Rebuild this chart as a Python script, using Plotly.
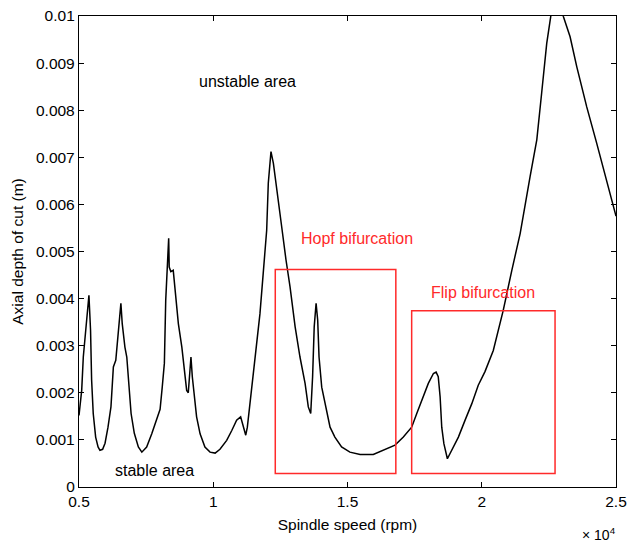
import plotly.graph_objects as go

# Spindle speed (x 1e4 rpm) and axial depth of cut (m)
speed = [0.500, 0.510, 0.516, 0.525, 0.532, 0.537, 0.540, 0.543, 0.547, 0.553,
         0.562, 0.571, 0.578, 0.588, 0.597, 0.608, 0.619, 0.628, 0.637, 0.644,
         0.650, 0.656, 0.661, 0.668, 0.671, 0.678, 0.684, 0.694, 0.706, 0.721,
         0.734, 0.752, 0.771, 0.789, 0.802, 0.810, 0.818, 0.823, 0.829, 0.834,
         0.836, 0.842, 0.851, 0.861, 0.870, 0.883, 0.891, 0.901, 0.907, 0.913,
         0.917, 0.922, 0.929, 0.938, 0.951, 0.969, 0.988, 1.007, 1.025, 1.050,
         1.069, 1.087, 1.102, 1.112, 1.121, 1.127, 1.143, 1.162, 1.174, 1.186,
         1.199, 1.205, 1.215, 1.224, 1.236, 1.255, 1.271, 1.286, 1.305, 1.323,
         1.342, 1.354, 1.363, 1.370, 1.376, 1.383, 1.389, 1.394, 1.404, 1.416,
         1.435, 1.453, 1.478, 1.509, 1.547, 1.596, 1.633, 1.677, 1.708, 1.739,
         1.758, 1.782, 1.801, 1.820, 1.830, 1.838, 1.845, 1.851, 1.859, 1.872,
         1.888, 1.913, 1.938, 1.963, 1.987, 2.012, 2.043, 2.080, 2.112, 2.143,
         2.180, 2.205, 2.223, 2.242, 2.257, 2.271, 2.304, 2.329, 2.354, 2.391,
         2.428, 2.465, 2.496, 2.500]
depth_mm = [1.52, 2.05, 2.76, 3.26, 3.72, 4.07, 3.70, 3.33, 2.27, 1.56,
            1.06, 0.85, 0.78, 0.80, 0.93, 1.27, 1.70, 2.55, 2.69, 3.19,
            3.54, 3.90, 3.47, 3.10, 2.97, 2.76, 2.27, 1.56, 1.14, 0.85,
            0.74, 0.85, 1.13, 1.42, 1.65, 2.12, 2.63, 3.97, 4.60, 5.28,
            4.67, 4.57, 4.60, 4.04, 3.47, 2.97, 2.55, 2.05, 2.00, 2.48,
            2.76, 2.34, 1.91, 1.49, 1.13, 0.85, 0.74, 0.72, 0.80, 0.99,
            1.20, 1.42, 1.49, 1.27, 1.10, 1.27, 2.05, 2.97, 3.68, 4.53,
            5.45, 6.45, 7.12, 6.87, 6.30, 5.52, 4.82, 4.25, 3.40, 2.76,
            2.20, 1.70, 1.56, 2.34, 3.40, 3.90, 3.54, 2.76, 2.12, 1.77,
            1.27, 1.06, 0.85, 0.74, 0.69, 0.69, 0.78, 0.89, 1.06, 1.27,
            1.56, 1.91, 2.20, 2.41, 2.44, 2.34, 1.91, 1.27, 0.92, 0.60,
            0.78, 1.06, 1.42, 1.77, 2.16, 2.45, 2.90, 3.75, 4.60, 5.38,
            6.59, 7.37, 8.36, 9.42, 9.99, 10.69, 9.99, 9.56, 8.92, 8.07,
            7.30, 6.52, 5.81, 5.75]
depth = [v / 1000 for v in depth_mm]

x_ticks = [0.5, 1, 1.5, 2, 2.5]
x_ticklabels = ["0.5", "1", "1.5", "2", "2.5"]
y_ticks = [i / 1000 for i in range(11)]
y_ticklabels = ["0", "0.001", "0.002", "0.003", "0.004", "0.005",
                "0.006", "0.007", "0.008", "0.009", "0.01"]

# Highlight boxes: (x0, x1, y0, y1)
hopf_box = [1.231, 1.680, 0.000285, 0.00462]
flip_box = [1.739, 2.273, 0.000285, 0.00374]

labels = [
    ("unstable area", 1.129, 0.00860, "black"),
    ("stable area", 0.781, 0.000355, "black"),
    ("Hopf bifurcation", 1.537, 0.00528, "#ff2a2a"),
    ("Flip bifurcation", 2.006, 0.00414, "#ff2a2a"),
]

FONT = "Arial, Liberation Sans, sans-serif"
FS = 15.5

fig = go.Figure()
fig.add_trace(go.Scatter(x=speed, y=depth, mode="lines",
                         line=dict(color="black", width=1.5), showlegend=False))

for b in (hopf_box, flip_box):
    fig.add_shape(type="rect", xref="x", yref="y", x0=b[0], x1=b[1], y0=b[2], y1=b[3],
                  line=dict(color="#ff2a2a", width=1.5))

for text, x, y, col in labels:
    fig.add_annotation(x=x, y=y, text=text, showarrow=False, xref="x", yref="y",
                       font=dict(family=FONT, size=16, color=col))

fig.add_annotation(x=1, y=0, xref="paper", yref="paper", xanchor="right", yanchor="middle",
                   yshift=-47, xshift=2, text="× 10<sup>4</sup>", showarrow=False,
                   font=dict(family=FONT, size=14, color="black"))

axis_common = dict(showline=True, linecolor="black", linewidth=1.3, mirror="ticks",
                   ticks="inside", ticklen=5, tickcolor="black", tickwidth=1,
                   showgrid=False, zeroline=False, automargin=False,
                   tickfont=dict(family=FONT, size=FS, color="black"))

fig.update_xaxes(range=[0.5, 2.5], tickvals=x_ticks, ticktext=x_ticklabels,
                 title=dict(text="Spindle speed (rpm)", standoff=10,
                            font=dict(family=FONT, size=FS, color="black")),
                 **axis_common)
fig.update_yaxes(range=[0, 0.01], tickvals=y_ticks, ticktext=y_ticklabels,
                 title=dict(text="Axial depth of cut (m)", standoff=8,
                            font=dict(family=FONT, size=FS, color="black")),
                 **axis_common)

fig.update_layout(width=627, height=544, plot_bgcolor="white", paper_bgcolor="white",
                  margin=dict(l=79, r=11, t=16, b=57, pad=0))

fig.write_html("out.html", config={"displayModeBar": False},
               post_script="document.body.style.margin='0px';")
